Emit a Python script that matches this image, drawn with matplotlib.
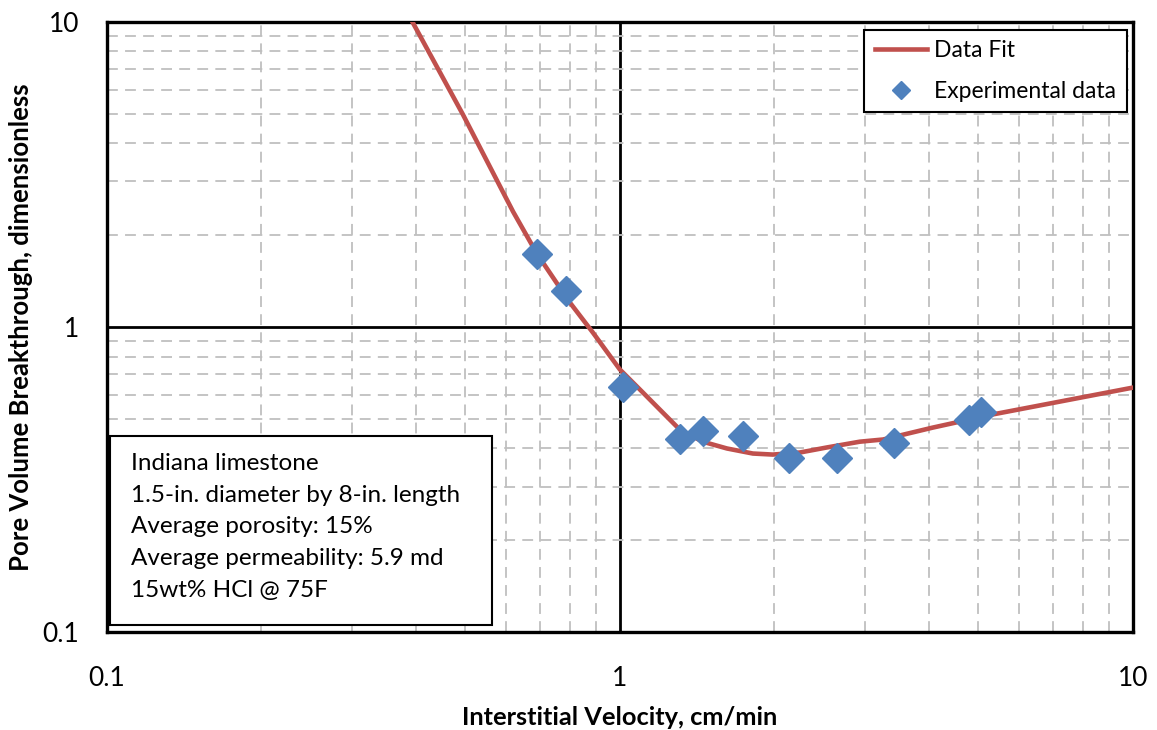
import matplotlib
matplotlib.use("Agg")
import matplotlib.pyplot as plt
from matplotlib.patches import Rectangle
from matplotlib.ticker import LogLocator, NullFormatter, FixedLocator

plt.rcParams['font.family'] = ['Lato', 'DejaVu Sans']

# Data fit curve
fit_v = [0.394, 0.494, 0.619, 0.689, 0.799, 0.886, 1.0, 1.109, 1.197, 1.309,
         1.451, 1.617, 1.817, 1.987, 2.244, 2.532, 2.937, 3.26, 4.07, 5.33, 10.0]
fit_pv = [10.0, 4.98, 2.39, 1.74, 1.203, 0.959, 0.726, 0.610, 0.536, 0.461,
          0.421, 0.400, 0.385, 0.382, 0.388, 0.403, 0.421, 0.428, 0.468, 0.517, 0.633]

# experimental points
exp_v = [0.689, 0.785, 1.013, 1.309, 1.452, 1.738, 2.135, 2.65, 3.42, 4.79, 5.05]
exp_pv = [1.74, 1.31, 0.638, 0.431, 0.458, 0.441, 0.371, 0.371, 0.418, 0.497, 0.525]

info_lines = ["Indiana limestone",
              "1.5-in. diameter by 8-in. length",
              "Average porosity: 15%",
              "Average permeability: 5.9 md",
              "15wt% HCl @ 75F"]

fig = plt.figure(figsize=(11.57, 7.30), dpi=100)
ax = fig.add_axes([0.0925, 0.134, 0.979 - 0.0925, 0.970 - 0.134])

ax.set_xscale('log')
ax.set_yscale('log')
ax.set_xlim(0.1, 10)
ax.set_ylim(0.1, 10)

# grid: dashed grey minors, black solid at 1
ax.xaxis.set_minor_locator(LogLocator(base=10, subs=range(2, 10)))
ax.yaxis.set_minor_locator(LogLocator(base=10, subs=range(2, 10)))
ax.xaxis.set_minor_formatter(NullFormatter())
ax.yaxis.set_minor_formatter(NullFormatter())
ax.grid(which='minor', color='#bfbfbf', linestyle=(0, (6, 4)), linewidth=1.3)
ax.axvline(1, color='black', lw=2, zorder=1)
ax.axhline(1, color='black', lw=2, zorder=1)

ax.xaxis.set_major_locator(FixedLocator([0.1, 1, 10]))
ax.yaxis.set_major_locator(FixedLocator([0.1, 1, 10]))
ax.set_xticklabels(['0.1', '1', '10'])
ax.set_yticklabels(['0.1', '1', '10'])
ax.tick_params(which='both', length=0, labelsize=19)
ax.tick_params(axis='x', pad=24)
ax.tick_params(axis='y', pad=20)

for s in ax.spines.values():
    s.set_linewidth(2.4)
    s.set_color('black')

ax.plot(fit_v, fit_pv, color='#c0504d', lw=3.3, label='Data Fit', zorder=3,
        solid_joinstyle='round')
ax.plot(exp_v, exp_pv, linestyle='none', marker='D', ms=15, color='#4f81bd',
        label='Experimental data', zorder=4)

ax.set_xlabel('Interstitial Velocity, cm/min', fontsize=18.3, fontweight='bold', labelpad=11)
ax.set_ylabel('Pore Volume Breakthrough, dimensionless', fontsize=18.5, fontweight='bold',
              va='center')
ax.yaxis.set_label_coords(-0.084, 0.5)

leg = ax.legend(loc='upper right', fontsize=16.5, frameon=True, fancybox=False,
                edgecolor='black', framealpha=1, borderpad=0.45, handlelength=2.3,
                handletextpad=0.3, labelspacing=0.85, markerscale=0.6,
                borderaxespad=0, bbox_to_anchor=(0.994, 0.987))
leg.get_frame().set_linewidth(1.5)

# info box
ax.add_patch(Rectangle((0.003, 0.0115), 0.372, 0.31, transform=ax.transAxes,
                       facecolor='white', edgecolor='black', lw=1.5, zorder=6))
ax.text(0.0234, 0.293, "\n".join(info_lines), transform=ax.transAxes, fontsize=17.5,
        va='top', ha='left', linespacing=1.62, zorder=7)

fig.savefig('out.png', dpi=100)
